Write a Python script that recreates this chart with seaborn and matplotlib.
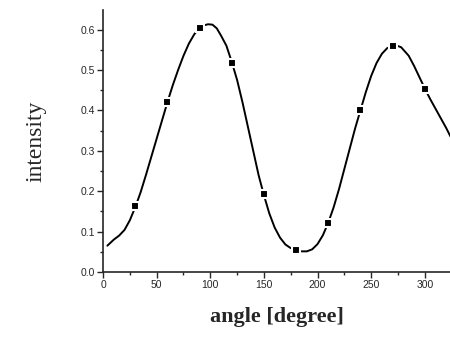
import matplotlib
matplotlib.use("Agg")
import matplotlib.pyplot as plt
import seaborn as sns
import pandas as pd
from matplotlib.ticker import MultipleLocator

# Fitted curve
curve_angle = [4, 10, 15, 20, 25, 30, 35, 40, 45, 50, 55, 60, 65, 70, 75, 80, 85, 90, 95,
               98, 102, 106, 110, 115, 120, 125, 130, 135, 140, 145, 150, 155, 160, 165,
               170, 175, 180, 185, 190, 195, 200, 205, 210, 215, 220, 225, 230, 235, 240,
               245, 250, 255, 260, 265, 270, 274, 278, 285, 290, 295, 300, 305, 310, 315,
               320, 324]
curve_int = [0.065, 0.080, 0.090, 0.104, 0.128, 0.160, 0.197, 0.240, 0.285, 0.330, 0.375,
             0.420, 0.462, 0.500, 0.535, 0.565, 0.588, 0.604, 0.611, 0.613, 0.612, 0.603,
             0.585, 0.560, 0.520, 0.475, 0.420, 0.360, 0.300, 0.240, 0.190, 0.145, 0.110,
             0.085, 0.068, 0.059, 0.054, 0.051, 0.051, 0.056, 0.069, 0.091, 0.122, 0.160,
             0.205, 0.255, 0.305, 0.355, 0.400, 0.445, 0.485, 0.517, 0.540, 0.554, 0.559,
             0.560, 0.556, 0.535, 0.510, 0.482, 0.454, 0.428, 0.404, 0.380, 0.356, 0.335]

# Measured points
pt_angle = [30, 60, 90, 120, 150, 180, 210, 240, 270, 300]
pt_int = [0.164, 0.420, 0.604, 0.518, 0.192, 0.055, 0.122, 0.400, 0.559, 0.454]

x_ticks = [0, 50, 100, 150, 200, 250, 300]
y_ticks = [0.0, 0.1, 0.2, 0.3, 0.4, 0.5, 0.6]

sns.set_style("ticks")
plt.rcParams["font.family"] = ["Liberation Sans", "DejaVu Sans"]

fig = plt.figure(figsize=(4.5, 3.37), dpi=100)
ax = fig.add_axes([0.229, 0.193, 0.771, 0.777])

curve = pd.DataFrame({"angle": curve_angle, "intensity": curve_int})
pts = pd.DataFrame({"angle": pt_angle, "intensity": pt_int})

sns.lineplot(data=curve, x="angle", y="intensity", ax=ax, color="black", lw=1.4,
             zorder=2)
ax.plot(pts["angle"], pts["intensity"], ls="none", marker="s", ms=5.5,
        mfc="black", mec="white", mew=1.5, zorder=3)

ax.set_xlim(0, 323.5)
ax.set_ylim(0, 0.648)
ax.set_xticks(x_ticks)
ax.set_yticks(y_ticks)
ax.set_xticklabels([str(v) for v in x_ticks])
ax.set_yticklabels([f"{v:.1f}" for v in y_ticks])
ax.xaxis.set_minor_locator(MultipleLocator(25))
ax.yaxis.set_minor_locator(MultipleLocator(0.05))
ax.tick_params(which="major", direction="out", length=4, width=1, labelsize=7.5, pad=2)
ax.tick_params(which="minor", direction="out", length=2.5, width=1)
for s in ["top", "right"]:
    ax.spines[s].set_visible(False)
for s in ["left", "bottom"]:
    ax.spines[s].set_linewidth(1.2)

ax.set_xlabel("angle [degree]", family="Liberation Serif", fontsize=16,
              fontweight="bold", labelpad=12)
ax.set_ylabel("intensity", family="Liberation Serif", fontsize=17, labelpad=24)

fig.savefig("out.png", dpi=100, facecolor="white")
